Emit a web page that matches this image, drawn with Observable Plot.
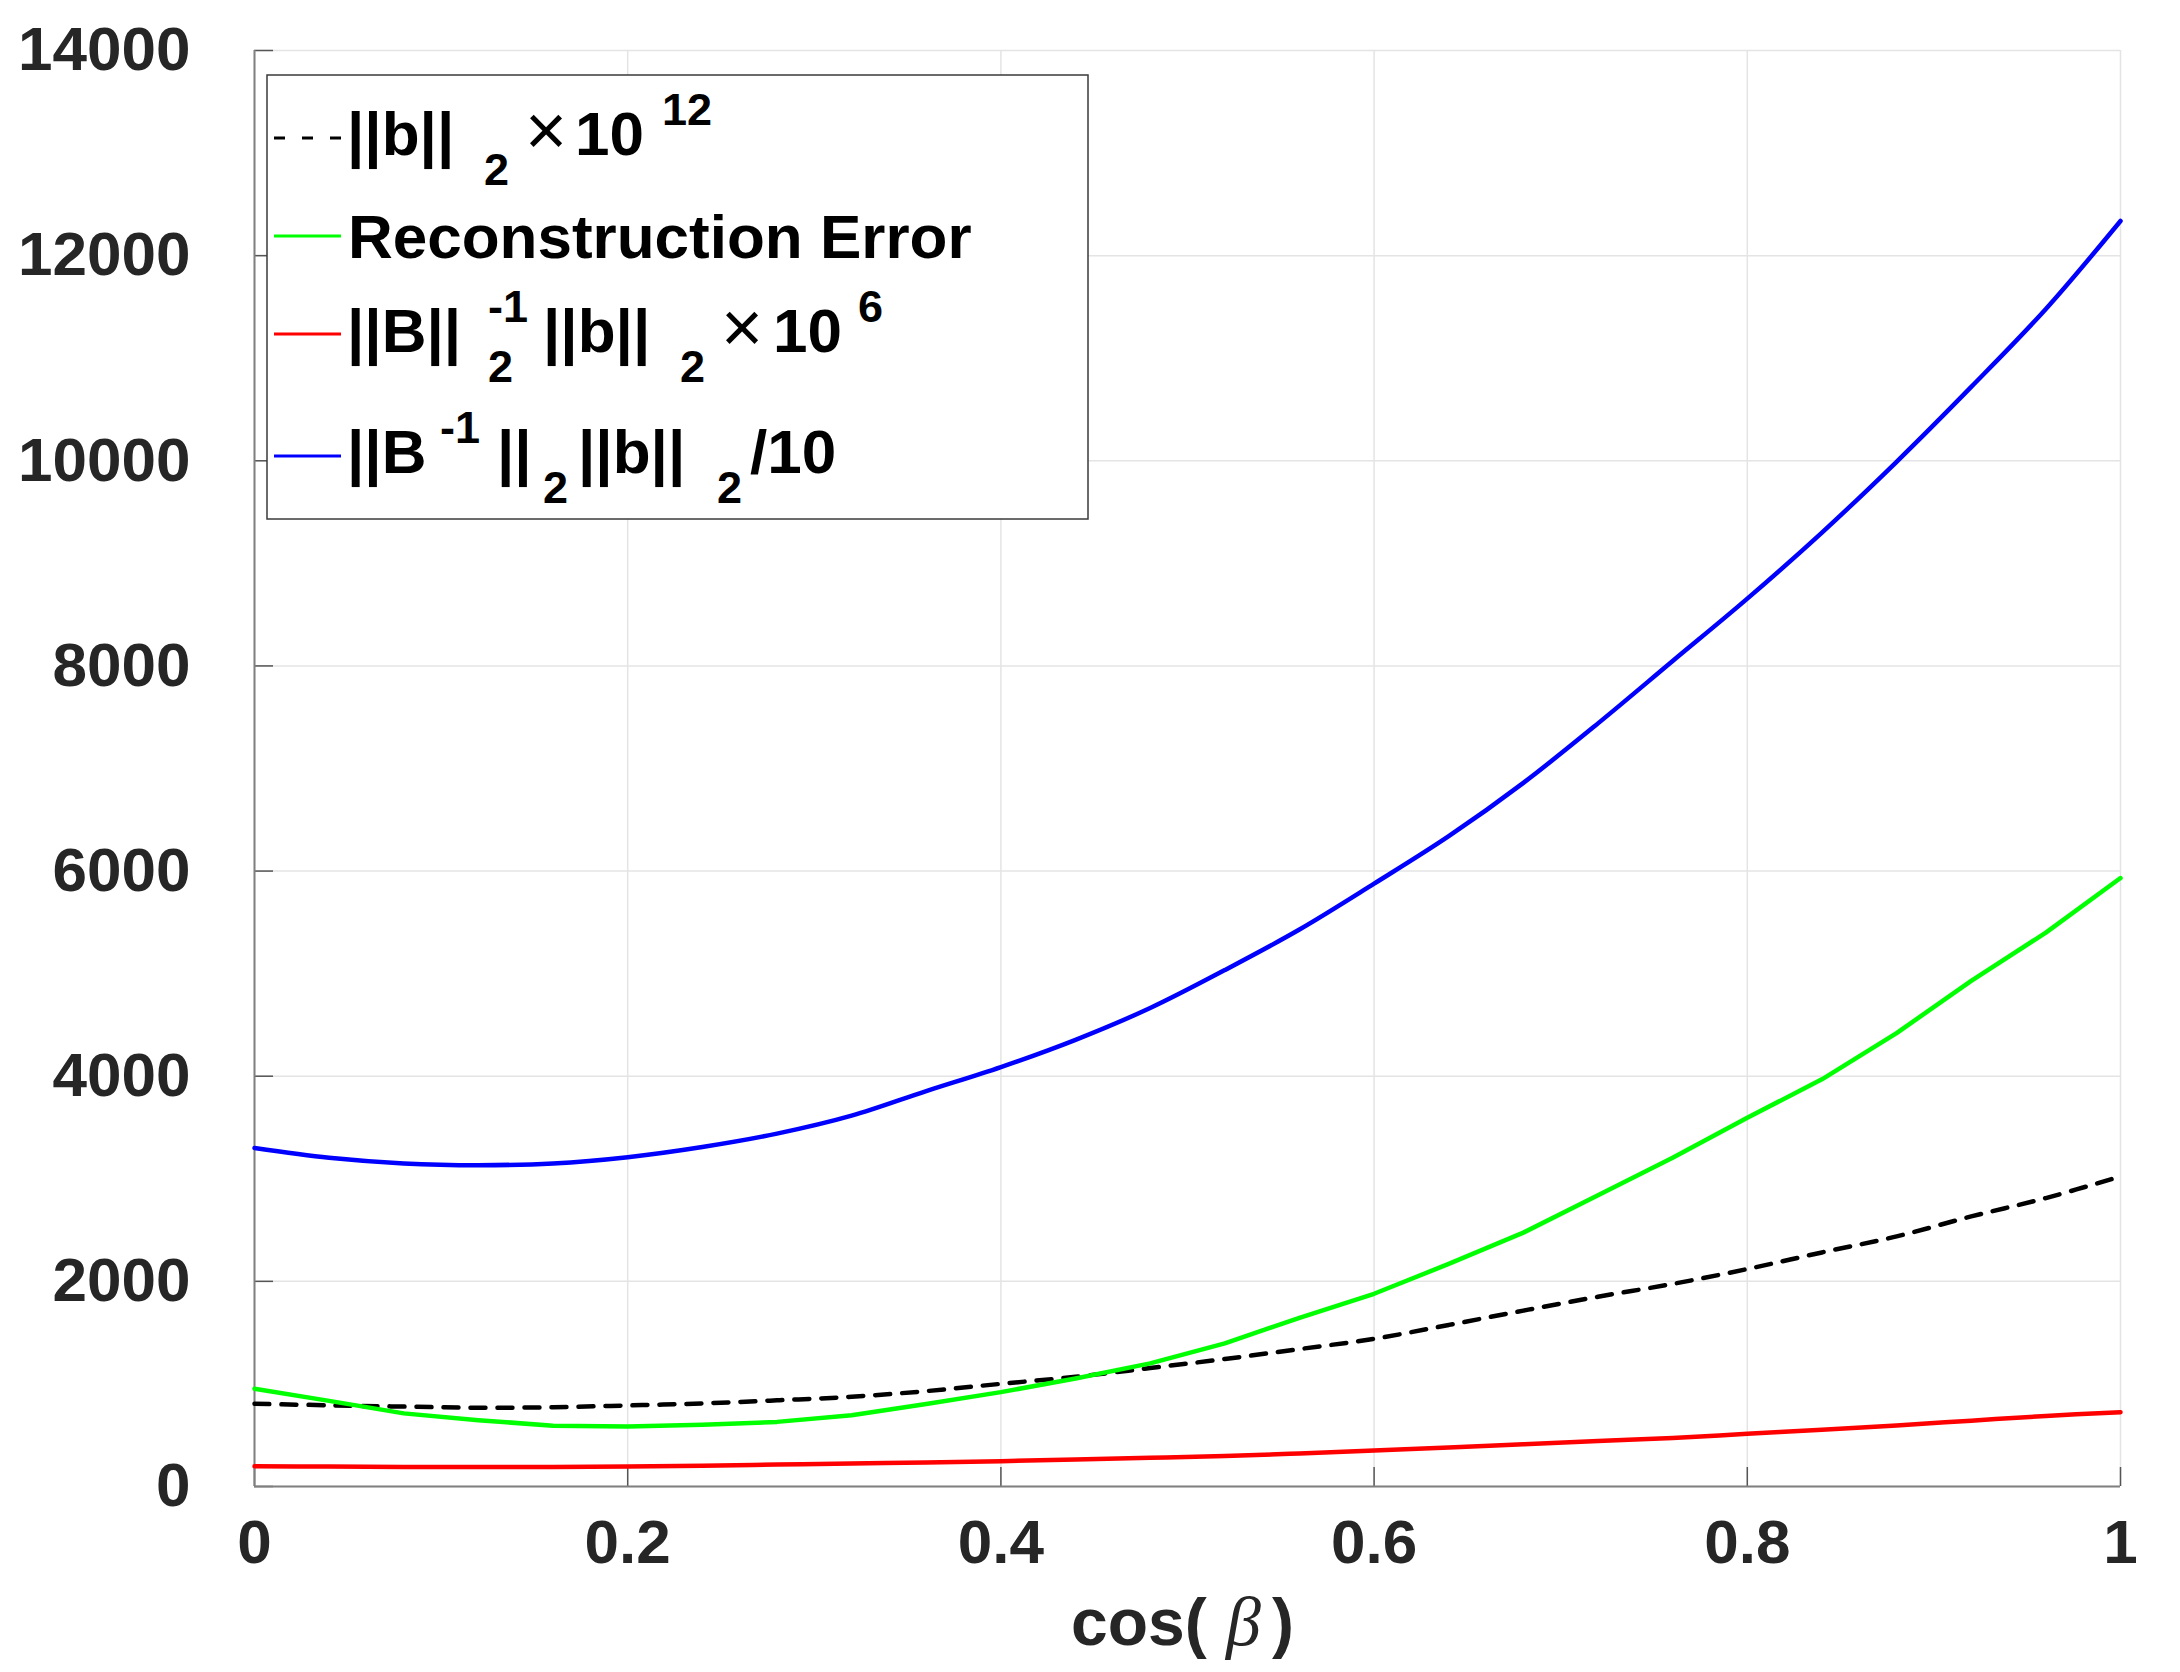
<!DOCTYPE html>
<html>
<head>
<meta charset="utf-8">
<script src="https://cdn.jsdelivr.net/npm/d3@7"></script>
<script src="https://cdn.jsdelivr.net/npm/@observablehq/plot@0.6"></script>
<style>
  body { margin: 0; background: #fff; }
  #chart svg { display: block; }
</style>
</head>
<body>
<div id="chart"></div>
<script>
// ---- data ----
const cosBeta = [0, 0.04, 0.08, 0.12, 0.16, 0.20, 0.24, 0.28, 0.32, 0.36, 0.40, 0.44, 0.48,
                 0.52, 0.56, 0.60, 0.64, 0.68, 0.72, 0.76, 0.80, 0.84, 0.88, 0.92, 0.96, 1.00];
// ||b||_2 x 10^12 (black dashed)
const normB = [806, 792, 779, 768, 773, 790, 810, 840, 875, 930, 1001, 1070, 1155,
               1243, 1340, 1440, 1575, 1715, 1850, 1975, 2120, 2282, 2438, 2633, 2812, 3023];
// Reconstruction Error (green)
const reconError = [953, 835, 713, 647, 592, 585, 602, 630, 695, 805, 920, 1053, 1200,
                    1395, 1645, 1879, 2170, 2475, 2840, 3205, 3595, 3970, 4420, 4930, 5400, 5932];
// ||B||_2^-1 ||b||_2 x 10^6 (red)
const invNormBtimesB = [198, 194, 191, 189, 190, 195, 203, 214, 225, 235, 247, 263, 280,
                        298, 322, 351, 380, 412, 443, 473, 514, 553, 595, 642, 688, 725];
// ||B^-1||_2 ||b||_2 / 10 (blue)
const normBinvTimesB = [3300, 3205, 3150, 3133, 3150, 3211, 3310, 3440, 3615, 3855, 4089, 4355, 4665,
                        5035, 5430, 5877, 6340, 6860, 7440, 8048, 8656, 9300, 9990, 10720, 11480, 12338];

const xTicks = [0, 0.2, 0.4, 0.6, 0.8, 1];
const xTickLabels = ["0", "0.2", "0.4", "0.6", "0.8", "1"];
const yTicks = [0, 2000, 4000, 6000, 8000, 10000, 12000, 14000];
const yTickLabels = ["0", "2000", "4000", "6000", "8000", "10000", "12000", "14000"];

const seriesNames = ["normB", "recon", "red", "blue"];
const seriesValues = [normB, reconError, invNormBtimesB, normBinvTimesB];
const seriesColors = ["#000000", "#00ff00", "#ff0000", "#0000ff"];

const rows = seriesNames.map((name, s) =>
  cosBeta.map((x, i) => ({series: name, x, y: seriesValues[s][i]})));

const FONT = "'Liberation Sans', Arial, Helvetica, sans-serif";
const TXT = "#262626";
const LW = 4.5;

const svg = Plot.plot({
  width: 2180,
  height: 1672,
  marginLeft: 254,
  marginRight: 60,
  marginTop: 50,
  marginBottom: 186,
  style: {fontFamily: FONT, background: "white", color: TXT, overflow: "visible"},
  x: {domain: [0, 1]},
  y: {domain: [0, 14000]},
  marks: [
    Plot.gridX(xTicks, {stroke: "#e4e4e4", strokeOpacity: 1, strokeWidth: 1.5}),
    Plot.gridY(yTicks, {stroke: "#e4e4e4", strokeOpacity: 1, strokeWidth: 1.5}),
    Plot.ruleX(xTicks, {x: d => d, y1: 0, y2: 185, stroke: "#555", strokeWidth: 1.5}),
    Plot.ruleY(yTicks, {y: d => d, x1: 0, x2: 0.0102, stroke: "#555", strokeWidth: 1.5}),
    Plot.ruleX([0], {stroke: "#808080", strokeWidth: 2}),
    Plot.ruleY([0], {stroke: "#808080", strokeWidth: 2}),
    Plot.axisX({ticks: xTicks, tickFormat: d => xTickLabels[xTicks.indexOf(d)], tickSize: 0, tickPadding: 32,
                fontSize: 62, fontWeight: "bold", fill: TXT, label: null}),
    Plot.axisY({ticks: yTicks, tickFormat: d => yTickLabels[yTicks.indexOf(d)], tickSize: 0, tickPadding: 64,
                fontSize: 62, fontWeight: "bold", fill: TXT, label: null}),
    Plot.line(rows[0], {x: "x", y: "y", stroke: seriesColors[0], strokeWidth: LW, strokeDasharray: "15,12", curve: "catmull-rom"}),
    Plot.line(rows[1], {x: "x", y: "y", stroke: seriesColors[1], strokeWidth: LW}),
    Plot.line(rows[2], {x: "x", y: "y", stroke: seriesColors[2], strokeWidth: LW, curve: "catmull-rom"}),
    Plot.line(rows[3], {x: "x", y: "y", stroke: seriesColors[3], strokeWidth: LW, curve: "catmull-rom"})
  ]
});

const root = d3.select(svg);
root.selectAll("g[aria-label$='tick label'] text")
  .style("font-size", "62px").style("font-weight", "bold").style("fill", TXT);

// ---- x-axis title: cos( β) ----
const xt = root.append("text").attr("text-anchor", "start")
  .attr("fill", TXT).attr("font-family", FONT).attr("font-size", 66).attr("font-weight", "bold");
xt.append("tspan").attr("x", 1071).attr("y", 1645).text("cos( ");
xt.append("tspan").attr("x", 1226).attr("y", 1645)
  .attr("font-family", "'Liberation Serif', 'DejaVu Serif', serif")
  .attr("font-style", "italic").attr("font-weight", "normal").attr("font-size", 70).text("β");
xt.append("tspan").attr("x", 1272).attr("y", 1645).text(")");

// ---- legend ----
const lg = root.append("g");
lg.append("rect").attr("x", 267).attr("y", 75).attr("width", 821).attr("height", 444)
  .attr("fill", "white").attr("stroke", "#3a3a3a").attr("stroke-width", 1.5);

const legendLineY = [138, 236, 334, 456];
const legendDash = ["11,17", null, null, null];
legendLineY.forEach((yy, i) => {
  const l = lg.append("line").attr("x1", 274).attr("x2", 341).attr("y1", yy).attr("y2", yy)
    .attr("stroke", seriesColors[i]).attr("stroke-width", 3);
  if (legendDash[i]) l.attr("stroke-dasharray", legendDash[i]);
});

// each piece: [text, x, baseline, size, weight]
const legendEntries = [
  [["||b||", 347, 155, 62], ["2", 484, 185, 45], ["×", 525, 155, 72, "normal"], ["10", 575, 155, 62], ["12", 662, 125, 45]],
  [["Reconstruction Error", 348, 258, 62]],
  [["||B||", 347, 352, 62], ["-1", 488, 322, 45], ["2", 488, 382, 45], ["||b||", 543, 352, 62],
   ["2", 680, 382, 45], ["×", 721, 352, 72, "normal"], ["10", 773, 352, 62], ["6", 858, 322, 45]],
  [["||B", 347, 473, 62], ["-1", 440, 443, 45], ["||", 497, 473, 62], ["2", 543, 503, 45],
   ["||b||", 578, 473, 62], ["2", 717, 503, 45], ["/10", 750, 473, 62]]
];
legendEntries.forEach(pieces => {
  const t = lg.append("text").attr("text-anchor", "start").attr("fill", "#000")
    .attr("font-family", FONT).attr("font-weight", "bold");
  pieces.forEach(([s, x, y, size, w]) => {
    const sp = t.append("tspan").attr("x", x).attr("y", y).attr("font-size", size).text(s);
    if (w) sp.attr("font-weight", w);
  });
});

document.getElementById("chart").appendChild(svg);
</script>
</body>
</html>
